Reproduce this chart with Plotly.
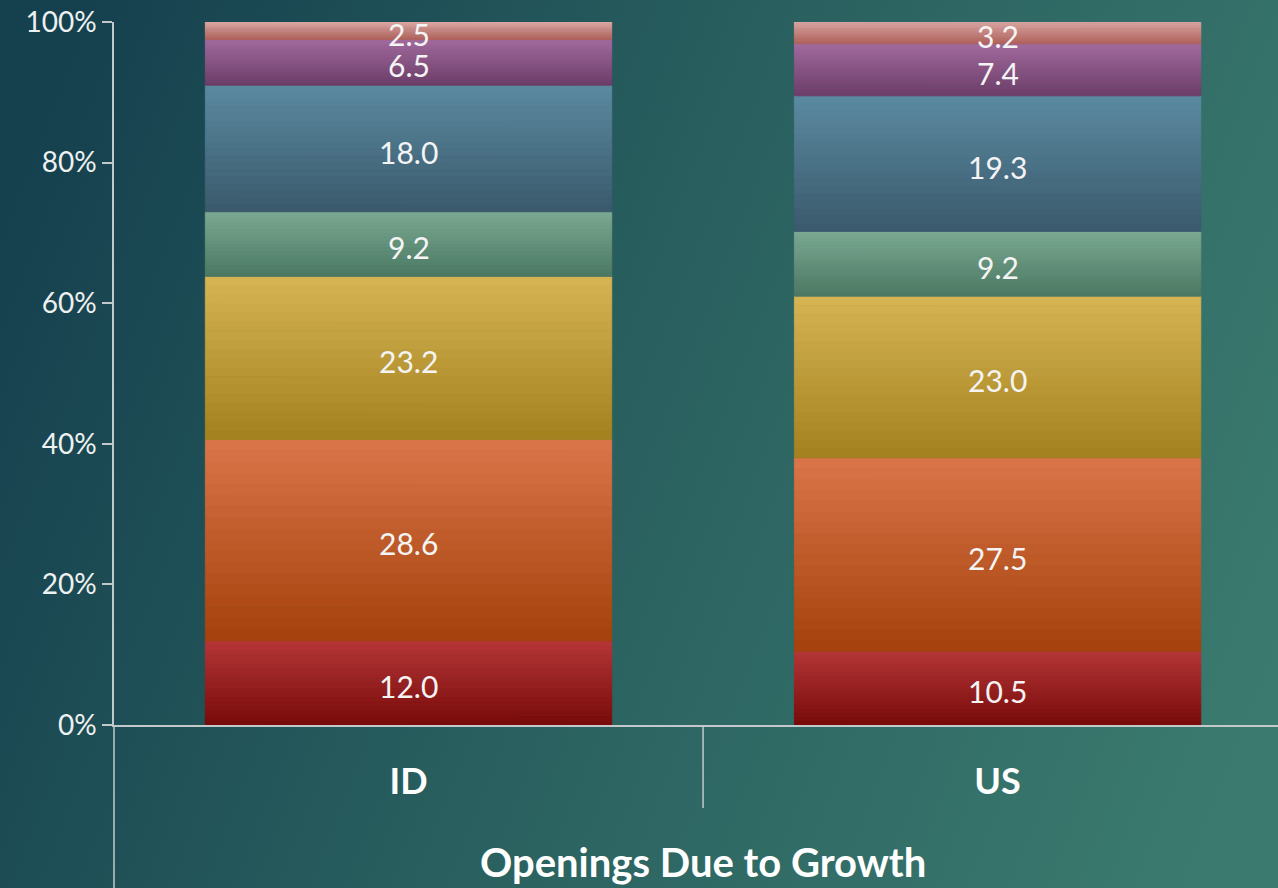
import base64
import plotly.graph_objects as go

# ---------------- data ----------------
categories = ["ID", "US"]
series_names = ["S1", "S2", "S3", "S4", "S5", "S6", "S7"]  # bottom -> top
id_values = [12.0, 28.6, 23.2, 9.2, 18.0, 6.5, 2.5]
us_values = [10.5, 27.5, 23.0, 9.2, 19.3, 7.4, 3.2]
y_tick_values = [0, 20, 40, 60, 80, 100]
y_tick_labels = ["0%", "20%", "40%", "60%", "80%", "100%"]
axis_title = "Openings Due to Growth"

# gradient colours per series (top colour, bottom colour)
top_colors = ["#B53636", "#DA7549", "#D6B455", "#7BA992", "#5B8AA0", "#A26A9D", "#DAA7A3"]
bottom_colors = ["#780A0A", "#A3410B", "#A2811D", "#4A7862", "#3A596C", "#6C3D68", "#B0605A"]

N_SLICES = 18


def hex_to_rgb(h):
    h = h.lstrip("#")
    return tuple(int(h[i:i + 2], 16) for i in (0, 2, 4))


def mix(c1, c2, t):
    a, b = hex_to_rgb(c1), hex_to_rgb(c2)
    return "rgb(%d,%d,%d)" % tuple(round(a[i] + (b[i] - a[i]) * t) for i in range(3))


fig = go.Figure()

values_by_cat = [id_values, us_values]
n_series = len(series_names)
cum = [[0.0] * len(categories)]
for i in range(n_series):
    cum.append([cum[-1][c] + values_by_cat[c][i] for c in range(len(categories))])

BAR_W = 0.69
for i in range(n_series):
    vals = [values_by_cat[c][i] for c in range(len(categories))]
    for k in range(N_SLICES):
        t = (k + 0.5) / N_SLICES  # 0 bottom -> 1 top
        col = mix(bottom_colors[i], top_colors[i], t)
        fig.add_trace(go.Bar(
            x=categories,
            y=[v / N_SLICES for v in vals],
            base=[cum[i][c] + vals[c] * k / N_SLICES for c in range(len(categories))],
            width=BAR_W,
            marker=dict(color=col, line=dict(width=0.8, color=col)),
            showlegend=False,
            hoverinfo="skip",
            name=series_names[i],
        ))

# value labels at segment centres
for i in range(n_series):
    for c, cat in enumerate(categories):
        v = values_by_cat[c][i]
        fig.add_annotation(
            x=cat, y=cum[i][c] + v / 2, xref="x", yref="y",
            text="%.1f" % v, showarrow=False, yshift=-3,
            borderpad=0,
            font=dict(family="Lato", size=30, color="#F4F4F4"),
        )

# background gradient as svg image
svg = (
    '<svg xmlns="http://www.w3.org/2000/svg" width="1278" height="888" viewBox="0 0 1278 888" preserveAspectRatio="none">'
    '<defs><linearGradient id="g" gradientUnits="userSpaceOnUse" x1="0" y1="200" x2="1278" y2="700">'
    '<stop offset="0" stop-color="#15404E"/>'
    '<stop offset="0.5" stop-color="#2A6160"/>'
    '<stop offset="1" stop-color="#3B7B6F"/>'
    '</linearGradient></defs>'
    '<rect width="1278" height="888" fill="url(#g)"/></svg>'
)
src = "data:image/svg+xml;base64," + base64.b64encode(svg.encode()).decode()

L, R, T, B = 114, 0, 22, 163
W, H = 1278, 888
pw, ph = W - L - R, H - T - B

fig.add_layout_image(dict(
    source=src, xref="paper", yref="paper",
    x=-L / pw, y=1 + T / ph, sizex=W / pw, sizey=H / ph,
    sizing="stretch", layer="below", xanchor="left", yanchor="top",
))

axis_col = "#C3C9CB"
# left axis extension down to the bottom
fig.add_shape(type="line", xref="paper", yref="paper", x0=0, x1=0, y0=0, y1=-B / ph,
              line=dict(color=axis_col, width=1.5))
# category divider
fig.add_shape(type="line", xref="x", yref="paper", x0=0.5, x1=0.5, y0=0, y1=-83 / ph,
              line=dict(color=axis_col, width=1.5))

fig.add_annotation(text=axis_title, xref="x", yref="paper", x=0.5, y=-137 / ph,
                   showarrow=False, yanchor="middle",
                   font=dict(family="Lato", size=40, color="#FFFFFF", weight="bold"))

fig.update_layout(
    width=W, height=H,
    margin=dict(l=L, r=R, t=T, b=B),
    barmode="overlay",
    paper_bgcolor="#25595C",
    plot_bgcolor="rgba(0,0,0,0)",
    showlegend=False,
    xaxis=dict(
        type="category", range=[-0.5, 1.476], showgrid=False, zeroline=False,
        showline=True, linecolor=axis_col, linewidth=1.5, ticks="",
        tickfont=dict(family="Lato", size=36, color="#FFFFFF", weight="bold"),
        ticklabelstandoff=24,
    ),
    yaxis=dict(
        range=[0, 100], tickvals=y_tick_values, ticktext=y_tick_labels, showgrid=False,
        zeroline=False, showline=True, linecolor=axis_col, linewidth=1.5,
        ticks="outside", ticklen=10, tickcolor=axis_col, tickwidth=1.5,
        tickfont=dict(family="Lato", size=28, color="#EEF1F1"),
    ),
)

fig.write_html(
    "out.html",
    config={"displayModeBar": False},
    post_script="document.body.style.margin='0';document.body.style.padding='0';document.body.style.overflow='hidden';",
)
